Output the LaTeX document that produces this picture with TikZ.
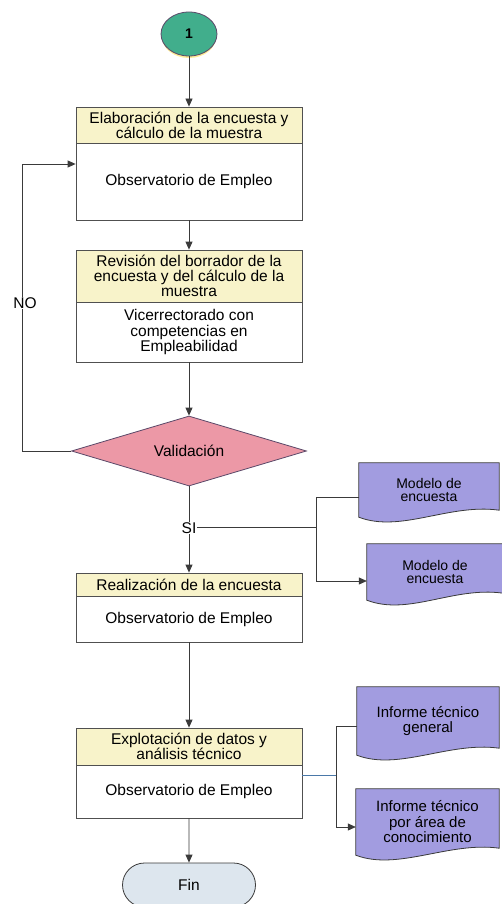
\documentclass[tikz,border=0pt]{standalone}
\usepackage{fontspec}
\setmainfont{Liberation Sans}
\usetikzlibrary{shapes.geometric,shapes.misc,arrows.meta,calc}
\pgfdeclarelayer{background}
\pgfdeclarelayer{paper}
\pgfsetlayers{paper,background,main}
\definecolor{hdrfill}{HTML}{F8F3CA}
\definecolor{boxline}{HTML}{505050}
\definecolor{lnc}{HTML}{3A3A3A}
\definecolor{bluelnc}{HTML}{4A78A8}
\definecolor{valfill}{HTML}{EC98A6}
\definecolor{valline}{HTML}{5A4868}
\definecolor{docfill}{HTML}{A29CE0}
\definecolor{startfill}{HTML}{41AE8C}
\definecolor{finfill}{HTML}{DDE6EE}
\newcommand\myboxfont{\fontsize{15.5}{15.2}\selectfont}
\newcommand\mydocfont{\fontsize{14}{13.8}\selectfont}
\newcommand\mydocfontb{\fontsize{15}{15.5}\selectfont}
\newcommand\docoutline[1]{\path[docshape] (#1.north west) -- (#1.north east) -- ($(#1.south east)+(0,-7)$) .. controls ($(#1.south east)+(-50,-14)$) and ($(#1.south west)+(42,16)$) .. (#1.south west) -- cycle;}
\begin{document}
\begin{tikzpicture}[x=1pt,y=-1pt,
  hdr/.style={draw=boxline, line width=0.8pt, fill=hdrfill, minimum width=226pt, inner sep=0pt, align=center, font=\myboxfont},
  body/.style={draw=boxline, line width=0.8pt, fill=white, minimum width=226pt, inner sep=0pt, align=center, font=\myboxfont},
  docbox/.style={inner sep=0pt, align=center, font=\mydocfont},
  docshape/.style={draw=lnc, line width=0.8pt, fill=docfill},
  conn/.style={draw=lnc, line width=0.8pt},
  arr/.style={conn, -{Triangle[length=8pt,width=7pt]}},
  lbl/.style={fill=white, inner sep=1pt, font=\myboxfont}]
\useasboundingbox (0,0) rectangle (501,904);
\clip (0,0) rectangle (501,904);
\begin{pgfonlayer}{paper}
\fill[white] (0,0) rectangle (501,904);
\end{pgfonlayer}

% start
\fill[yellow!70!orange!40] (189,37) ellipse (27pt and 21pt);
\node[ellipse, draw=valline, line width=0.8pt, fill=startfill, minimum width=56pt, minimum height=44pt, inner sep=0pt, font=\fontsize{14}{14}\selectfont\bfseries] (start) at (189,34) {1};

% box 1
\node[hdr, minimum height=36pt] (h1) at (189,125) {Elaboración de la encuesta y\\cálculo de la muestra};
\node[body, minimum height=77pt] (b1) at (189,181.5) {Observatorio de Empleo};

% box 2
\node[hdr, minimum height=52pt] (h2) at (189,276) {Revisión del borrador de la\\encuesta y del cálculo de la\\muestra};
\node[body, minimum height=60pt] (b2) at (189,332) {Vicerrectorado con\\competencias en\\Empleabilidad};

% decision
\node[diamond, shape aspect=3.36, draw=valline, line width=0.8pt, fill=valfill, minimum width=235pt, minimum height=70pt, inner sep=0pt, font=\myboxfont] (val) at (189,451) {Validación};

% box 3
\node[hdr, minimum height=23pt] (h3) at (189,584.5) {Realización de la encuesta};
\node[body, minimum height=46pt] (b3) at (189,619) {Observatorio de Empleo};

% box 4
\node[hdr, minimum height=37pt] (h4) at (189,746.5) {Explotación de datos y\\análisis técnico};
\node[body, minimum height=53pt] (b4) at (189,791.5) {Observatorio de Empleo};

% end
\node[rounded rectangle, draw=lnc, line width=0.8pt, fill=finfill, minimum width=133pt, minimum height=44pt, inner sep=0pt, font=\myboxfont] (fin) at (189,885) {Fin};

% documents
\node[docbox, minimum width=140pt, minimum height=54pt] (d1) at (429,490) {Modelo de\\encuesta};
\node[docbox, minimum width=136pt, minimum height=56pt] (d2) at (435,572) {Modelo de\\encuesta};
\node[docbox, font=\mydocfontb, minimum width=142pt, minimum height=68pt] (d3) at (428,721) {Informe técnico\\general};
\node[docbox, font=\mydocfontb, minimum width=143pt, minimum height=66pt] (d4) at (427.5,822) {Informe técnico\\por área de\\conocimiento};
\begin{pgfonlayer}{background}
\docoutline{d1}
\docoutline{d2}
\docoutline{d3}
\docoutline{d4}
\end{pgfonlayer}

% connectors
\draw[arr] (start) -- (h1);
\draw[arr] (b1) -- (h2);
\draw[arr] (b2) -- (val);
\draw[arr] (val) -- (h3);
\draw[arr] (b3) -- (h4);
\draw[arr] (b4) -- (fin);

\coordinate (n1) at (22,451);
\draw[arr] (val.west) -- (n1) |- ($(b1.west)+(0,-17.5)$);

\coordinate (j1) at (316,527);
\draw[conn] (val.south |- j1) -- (j1);
\draw[conn] (j1) |- ($(d1.west)+(0,7)$);
\draw[arr] (j1) |- ($(d2.west)+(0,9)$);

\coordinate (j2) at (336,775);
\draw[draw=bluelnc, line width=0.8pt] (b4.east |- j2) -- (j2);
\draw[conn] (j2) |- ($(d3.west)+(0,5)$);
\draw[arr] (j2) |- ($(d4.west)+(0,5)$);

% labels
\node[lbl] (no) at (25,303) {NO};
\node[lbl] (si) at (189,528) {SI};
\end{tikzpicture}
\end{document}
